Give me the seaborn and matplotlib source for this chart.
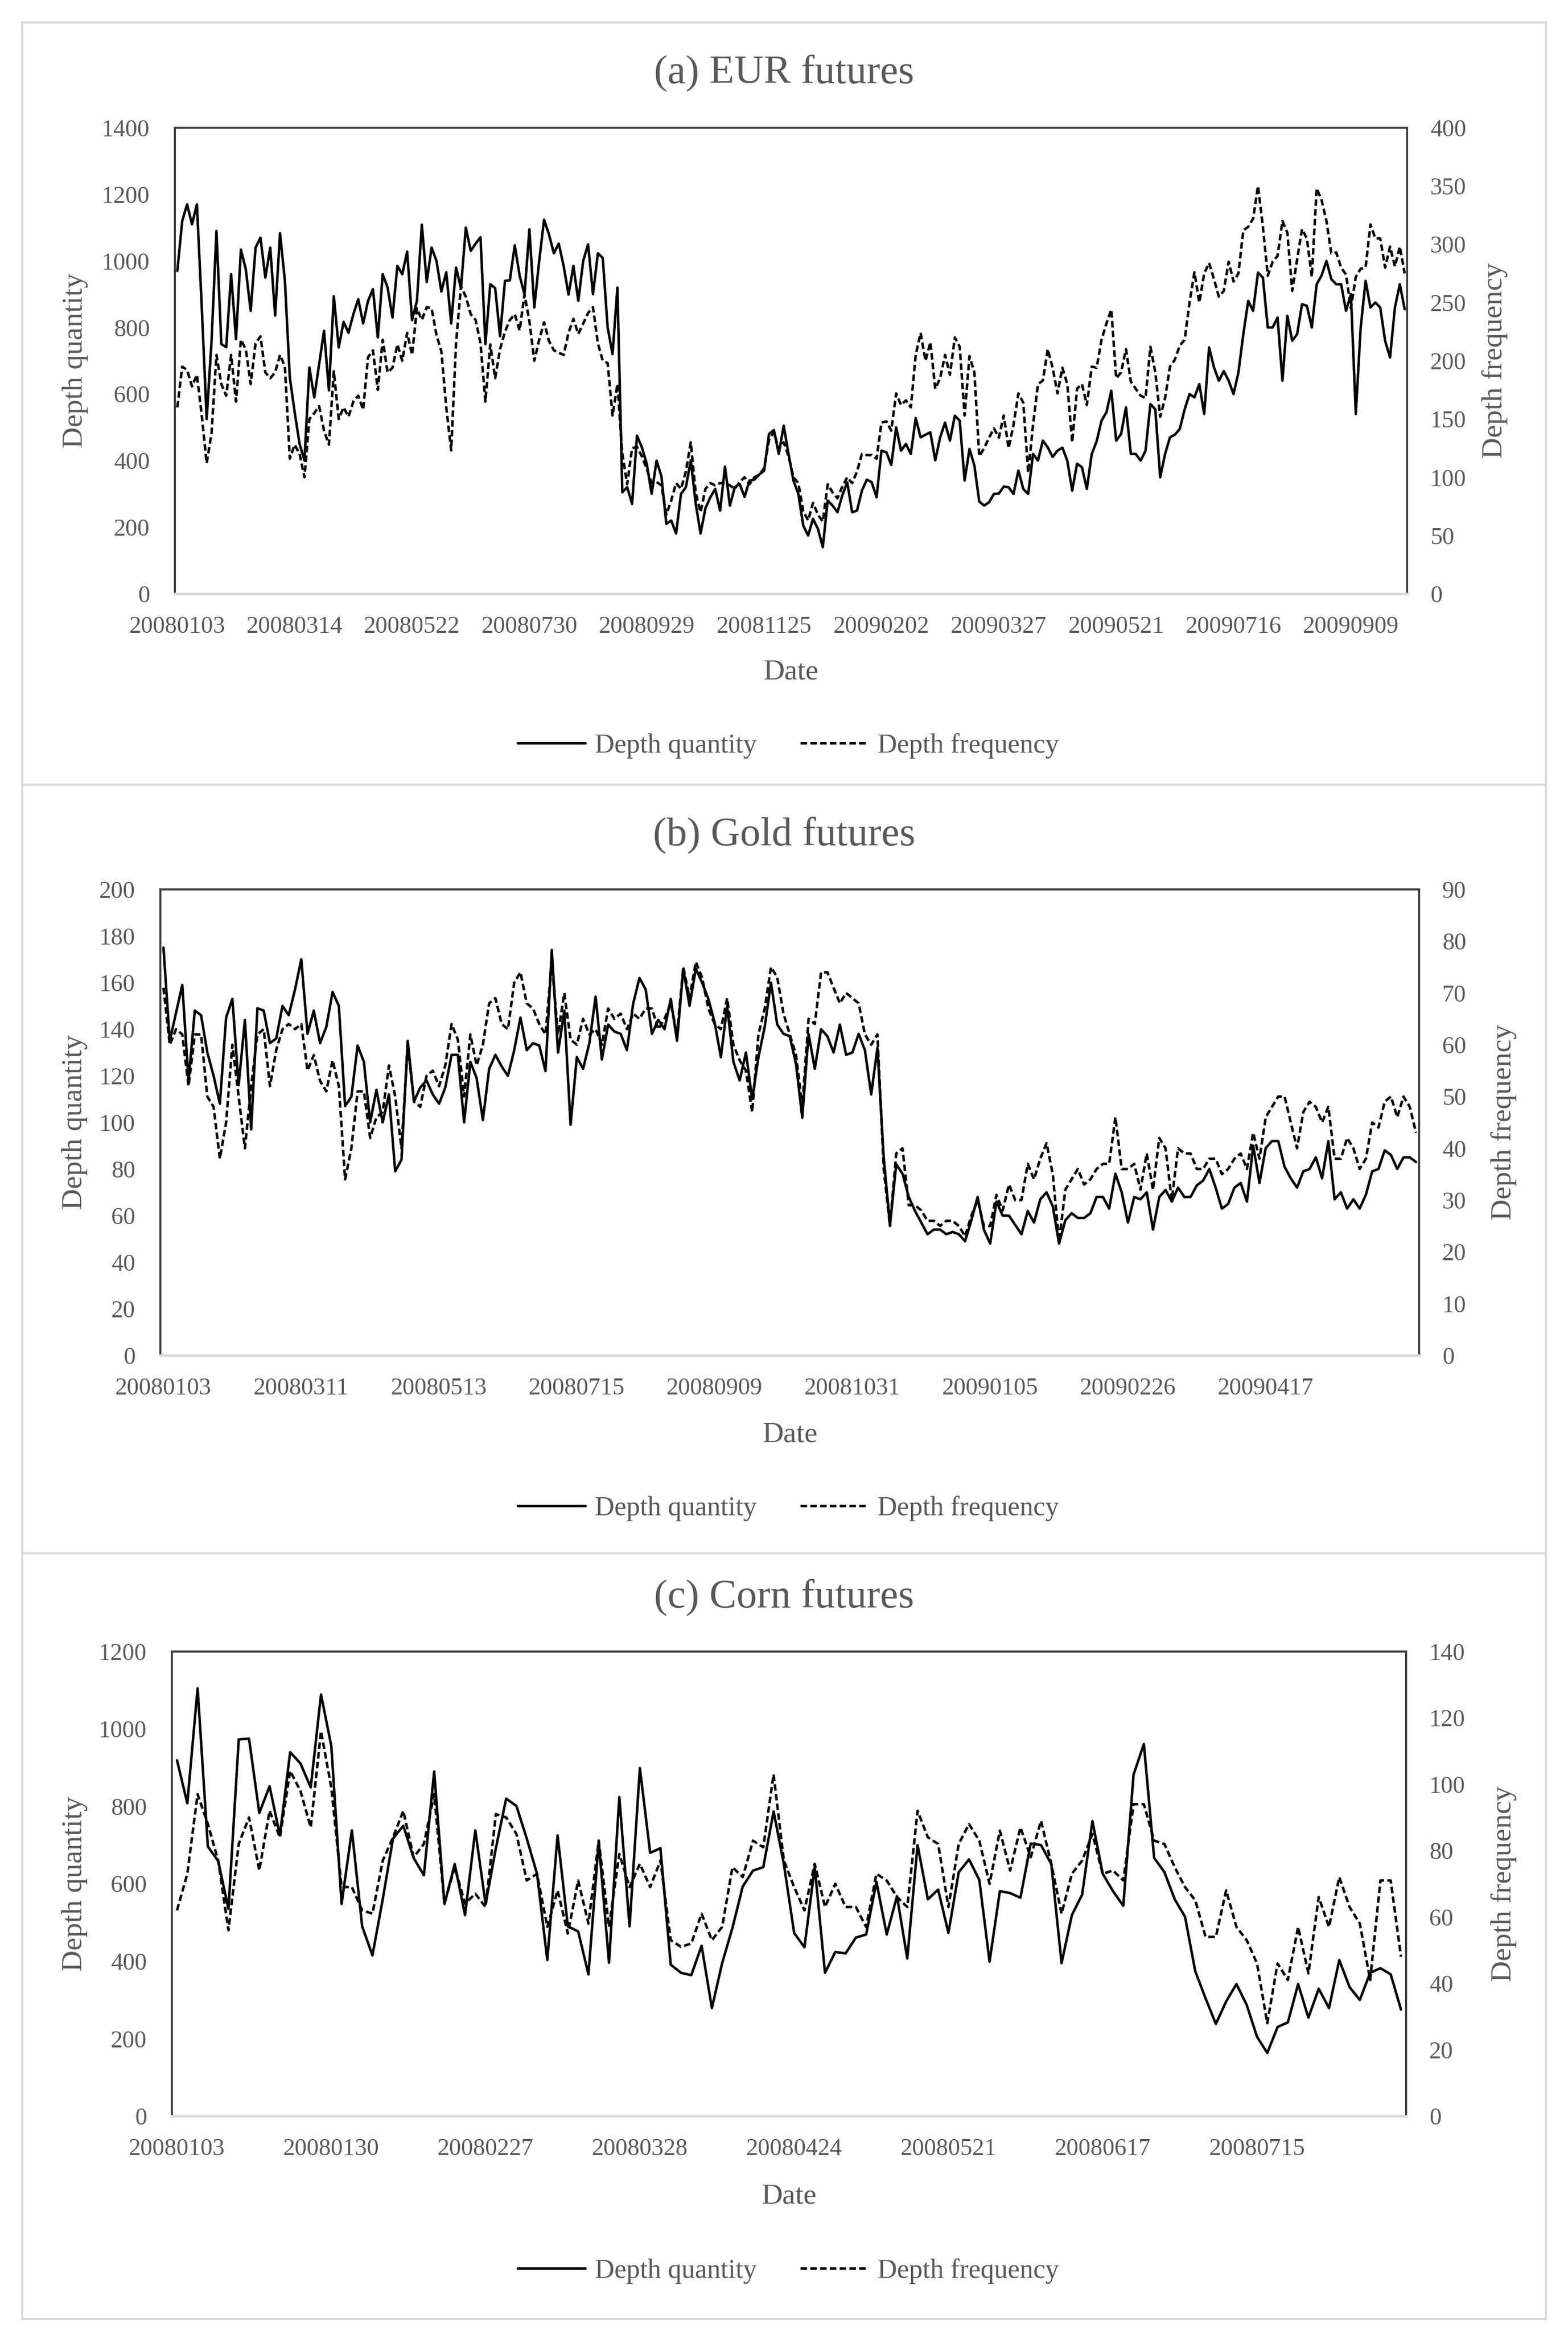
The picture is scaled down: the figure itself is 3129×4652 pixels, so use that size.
import matplotlib
matplotlib.use("Agg")
import matplotlib.pyplot as plt
import matplotlib.patches as patches
import pandas as pd
import seaborn as sns

# ---- data ----
eur_ticks = ["20080103", "20080314", "20080522", "20080730", "20080929", "20081125",
             "20090202", "20090327", "20090521", "20090716", "20090909"]
eur_quantity = [
    970, 1120, 1170, 1110, 1170, 860, 525, 760, 1090, 750,
    741, 960, 765, 1034, 975, 850, 1040, 1070, 950, 1040,
    836, 1083, 940, 650, 545, 450, 400, 680, 590, 690,
    790, 611, 894, 740, 817, 784, 840, 885, 812, 880,
    915, 770, 960, 920, 830, 985, 960, 1028, 822, 880,
    1109, 937, 1040, 1000, 908, 966, 812, 980, 918, 1100,
    1030, 1052, 1071, 750, 930, 918, 774, 940, 942, 1047,
    956, 899, 1095, 860, 1000, 1124, 1080, 1023, 1052, 985,
    899, 985, 880, 1000, 1050, 900, 1023, 1009, 800, 720,
    920, 305, 320, 270, 475, 440, 390, 300, 400, 353,
    210, 220, 181, 300, 320, 401, 272, 181, 257, 290,
    315, 250, 382, 265, 320, 330, 291, 340, 343, 358,
    370, 480, 492, 420, 505, 420, 340,
    300, 205, 175, 225, 195, 140, 280, 265, 245, 296,
    335, 245, 250, 310, 343, 335, 290, 430, 425, 387,
    500, 430, 450, 420, 528, 470, 478, 485, 401, 470,
    514, 460, 535, 520, 340, 435, 385, 277, 265, 275,
    300, 301, 322, 320, 300, 370, 315, 300, 420, 400,
    460, 440, 411, 430, 439, 400, 310, 391, 380, 315,
    420, 458, 520, 545, 610, 460, 480, 560, 420, 420,
    400, 430, 570, 554, 350, 420, 470, 478, 495, 554,
    600, 590, 630, 540, 740, 680, 640, 669, 640, 600,
    665, 780, 880, 850, 965, 950, 800, 800, 830, 640,
    835, 760, 780, 870, 865, 800, 930, 956, 1000, 945,
    930, 930, 850, 900, 540, 800, 940, 860, 875, 860,
    760, 710, 860, 930, 855,
]
eur_frequency = [
    160, 195, 192, 178, 188, 153, 112, 138, 205, 180,
    170, 205, 165, 218, 210, 180, 215, 221, 190, 185,
    190, 205, 195, 116, 128, 120, 100, 150, 155, 161,
    140, 128, 191, 150, 160, 152, 165, 170, 158, 203,
    209, 175, 218, 190, 194, 214, 200, 224, 205, 245,
    235, 246, 245, 222, 208, 160, 123, 215, 264, 255,
    240, 235, 215, 165, 214, 185, 210, 225, 235, 240,
    226, 257, 234, 200, 218, 233, 217, 209, 207, 205,
    224, 236, 223, 232, 241, 246, 215, 200, 198, 153,
    180, 120, 94, 125, 126, 118, 107, 95, 96, 93,
    68, 80, 95, 90, 105, 130, 87, 70, 90, 95,
    93, 95, 95, 93, 90, 96, 100, 94, 100, 102,
    108, 132, 139, 124, 130, 118, 100,
    95, 71, 63, 78, 68, 62, 94, 87, 82, 92,
    100, 95, 105, 120, 119, 119, 116, 147, 148, 140,
    172, 162, 166, 160, 205, 224, 200, 216, 176, 185,
    205, 188, 220, 212, 153, 204, 190, 118, 125, 134,
    142, 134, 153, 125, 145, 172, 164, 104, 145, 180,
    183, 210, 194, 172, 194, 180, 130, 176, 180, 162,
    195, 194, 218, 232, 244, 185, 190, 210, 182, 176,
    170, 168, 212, 190, 152, 168, 195, 201, 213, 218,
    250, 276, 250, 275, 284, 270, 255, 260, 285, 268,
    275, 312, 315, 322, 350, 315, 273, 285, 290, 320,
    310, 260, 287, 313, 305, 272, 348, 338, 320, 292,
    293, 280, 274, 245, 272, 279, 280, 317, 305, 305,
    280, 298, 281, 298, 275,
]

gold_ticks = ["20080103", "20080311", "20080513", "20080715", "20080909", "20081031",
              "20090105", "20090226", "20090417"]
gold_quantity = [
    175, 135, 147, 159, 118, 148, 146, 130, 120, 108,
    145, 153, 116, 144, 97, 149, 148, 134, 136, 150,
    146, 157, 170, 138, 148, 134, 141, 156, 150, 107,
    111, 133, 126, 100, 114, 100, 112, 79, 84, 135,
    109, 115, 118, 112, 108, 115, 129, 129, 100, 126,
    119, 101, 123, 129, 124, 120, 131, 145, 131, 134,
    133, 122, 174, 130, 148, 99, 128, 123, 134, 154,
    127, 142, 139, 138, 131, 151, 162, 157, 138, 144,
    140, 153, 135, 166, 150, 166, 160, 153, 143, 128,
    150, 126, 118, 130, 110, 128, 141, 160, 142, 138,
    137, 125, 102, 138, 123, 140, 137, 130, 142, 129,
    130, 138, 131, 112, 132, 85, 56, 82, 78, 68,
    62, 57, 52, 54, 54, 52, 53, 52, 49, 58,
    68, 54, 48, 66, 60, 60, 56, 52, 62, 57,
    67, 70, 64, 48, 58, 61, 59, 59, 61, 68,
    68, 63, 78, 70, 57, 68, 67, 70, 54, 68,
    71, 66, 72, 68, 68, 73, 75, 80, 72, 63,
    65, 72, 74, 66, 90, 74, 89, 92, 92, 81,
    76, 72, 79, 80, 85, 76, 92, 67, 70, 63,
    67, 63, 69, 79, 80, 88, 86, 80, 85, 85,
    83,
]
gold_frequency = [
    71, 60, 63, 62, 52, 62, 62, 50, 48, 38,
    45, 60, 50, 40, 52, 62, 63, 52, 59, 63,
    64, 63, 64, 55, 58, 53, 51, 57, 52, 34,
    40, 51, 51, 42, 46, 47, 56, 50, 40, 60,
    49, 48, 54, 55, 52, 56, 64, 61, 50, 62,
    56, 60, 68, 69, 64, 63, 72, 74, 68, 67,
    64, 62, 76, 62, 70, 61, 60, 65, 62, 63,
    60, 67, 65, 66, 63, 66, 65, 67, 67, 63,
    65, 68, 62, 75, 69, 76, 73, 67, 64, 63,
    69, 60, 57, 55, 47, 62, 67, 75, 73, 66,
    62, 58, 48, 65, 64, 74, 74, 71, 68, 70,
    69, 68, 62, 60, 62, 36, 25, 39, 40, 29,
    29, 28, 26, 26, 25, 26, 26, 25, 23, 27,
    30, 25, 25, 31, 28, 33, 30, 30, 37, 34,
    38, 41, 35, 22, 32, 34, 36, 33, 34, 36,
    37, 37, 46, 36, 36, 37, 32, 39, 32, 42,
    40, 30, 40, 39, 39, 36, 36, 38, 38, 35,
    36, 38, 39, 36, 43, 38, 46, 48, 50, 50,
    45, 40, 47, 49, 48, 45, 48, 38, 38, 42,
    40, 36, 38, 45, 44, 49, 50, 46, 50, 48,
    43,
]

corn_ticks = ["20080103", "20080130", "20080227", "20080328", "20080424", "20080521",
              "20080617", "20080715"]
corn_quantity = [
    919, 808, 1105, 696, 659, 535, 973, 975, 783, 852,
    725, 940, 911, 849, 1089, 956, 548, 738, 490, 415,
    560, 717, 750, 667, 622, 890, 548, 651, 519, 738,
    548, 692, 820, 801, 717, 626, 403, 725, 490, 477,
    366, 709, 396, 824, 490, 899, 680, 692, 391, 370,
    364, 440, 279, 395, 486, 593, 634, 643, 787, 651,
    473, 436, 643, 370, 424, 420, 461, 469, 605, 469,
    568, 407, 700, 560, 585, 473, 630, 663, 610, 399,
    581, 576, 564, 704, 700, 651, 395, 519, 572, 762,
    626, 581, 543, 882, 961, 667, 630, 560, 515, 374,
    304, 238, 296, 341, 287, 205, 163, 230, 242, 341,
    254, 329, 279, 403, 333, 300, 370, 382, 366, 275,
]
corn_frequency = [
    62, 73, 97, 88, 77, 56, 82, 90, 74, 92,
    84, 104, 98, 87, 116, 99, 69, 69, 62, 61,
    77, 84, 92, 78, 82, 97, 64, 75, 64, 67,
    63, 91, 90, 85, 71, 73, 57, 68, 55, 71,
    58, 83, 57, 79, 69, 76, 69, 77, 53, 51,
    52, 61, 53, 57, 75, 72, 83, 81, 103, 77,
    69, 62, 76, 63, 70, 63, 63, 57, 73, 71,
    66, 63, 92, 84, 82, 63, 82, 88, 83, 70,
    86, 74, 87, 78, 89, 76, 61, 73, 77, 85,
    73, 74, 71, 94, 94, 83, 82, 75, 69, 65,
    54, 54, 68, 57, 53, 46, 28, 46, 41, 57,
    43, 66, 57, 72, 63, 58, 41, 71, 71, 48,
]

# ---- style ----
sns.set_style("white")
plt.rcParams["font.family"] = ["Liberation Serif", "DejaVu Serif"]
GREY = "#595959"
DARK = "#404040"
LIGHT = "#D9D9D9"

W, H = 3129, 4652
fig = plt.figure(figsize=(W / 300, H / 300), dpi=300)


def draw_panel(box, axes_px, title, title_y, quantity, frequency, ticks, step,
               left_lim, right_lim, date_y, legend_y, ylab_x):
    # light grey frame around each panel
    x0, y0, x1, y1 = box
    fig.patches.append(patches.Rectangle((x0 / W, 1 - y1 / H), (x1 - x0) / W, (y1 - y0) / H,
                                         transform=fig.transFigure, fill=False,
                                         edgecolor=LIGHT, linewidth=1.0))
    left, top, right, bottom = axes_px
    ax = fig.add_axes([left / W, 1 - bottom / H, (right - left) / W, (bottom - top) / H])
    df = pd.DataFrame({"idx": range(len(quantity)),
                       "Depth quantity": quantity,
                       "Depth frequency": frequency})
    sns.lineplot(data=df, x="idx", y="Depth quantity", ax=ax, color="black",
                 linewidth=1.2, errorbar=None, legend=False)
    ax2 = ax.twinx()
    sns.lineplot(data=df, x="idx", y="Depth frequency", ax=ax2, color="black",
                 linewidth=1.2, linestyle="--", errorbar=None, legend=False)
    ax2.lines[0].set_dashes([2.6, 1.3])

    n = len(quantity)
    ax.set_xlim(-0.5, n - 0.5)
    ax.set_xticks(list(range(0, n, step))[:len(ticks)])
    ax.set_xticklabels(ticks)
    ax.set_ylim(0, left_lim[0])
    ax.set_yticks(range(0, left_lim[0] + 1, left_lim[1]))
    ax2.set_ylim(0, right_lim[0])
    ax2.set_yticks(range(0, right_lim[0] + 1, right_lim[1]))

    for a in (ax, ax2):
        for side in ("left", "top", "right"):
            a.spines[side].set_color(DARK)
            a.spines[side].set_linewidth(0.9)
        a.spines["bottom"].set_color(LIGHT)
        a.spines["bottom"].set_linewidth(1.2)
        a.grid(False)
    ax.tick_params(axis="both", length=0, labelsize=11.5, labelcolor=GREY)
    ax.tick_params(axis="y", pad=12)
    ax.tick_params(axis="x", pad=10.5)
    ax2.tick_params(axis="y", length=0, labelsize=11.5, labelcolor=GREY, pad=11)

    ah = bottom - top
    aw = right - left
    ax.set_xlabel("Date", fontsize=14, color=GREY)
    ax.xaxis.set_label_coords(0.5, -(date_y - bottom) / ah)
    ax.xaxis.label.set_va("center")
    ax.set_ylabel("Depth quantity", fontsize=14, color=GREY)
    ax.yaxis.set_label_coords(-(left - ylab_x[0]) / aw, 0.5)
    ax.yaxis.label.set_va("center")
    ax2.set_ylabel("Depth frequency", fontsize=14, color=GREY, rotation=90)
    ax2.yaxis.set_label_coords(1 + (ylab_x[1] - right) / aw, 0.5)
    ax2.yaxis.label.set_va("center")

    fig.text((x0 + x1) / 2 / W, 1 - title_y / H, title, ha="center", va="center",
             fontsize=19.5, color=GREY)
    fig.legend(handles=[ax.lines[0], ax2.lines[0]],
               labels=["Depth quantity", "Depth frequency"],
               loc="center", bbox_to_anchor=(1573 / W, 1 - legend_y / H),
               ncol=2, frameon=False, fontsize=13, labelcolor=GREY,
               handlelength=2.5, handletextpad=0.35, columnspacing=1.6)


draw_panel((44, 45, 3085, 1566), (349, 255, 2808, 1185), "(a) EUR futures", 146,
           eur_quantity, eur_frequency, eur_ticks, 24, (1400, 200), (400, 50),
           1341, 1488, (150, 2983))
draw_panel((44, 1566, 3085, 3100), (320, 1775, 2832, 2705), "(b) Gold futures", 1667,
           gold_quantity, gold_frequency, gold_ticks, 22, (200, 20), (90, 10),
           2864, 3010, (149, 3001))
draw_panel((44, 3100, 3085, 4628), (343, 3296, 2806, 4223), "(c) Corn futures", 3188,
           corn_quantity, corn_frequency, corn_ticks, 15, (1200, 200), (140, 20),
           4384, 4532, (149, 3001))

fig.savefig("out.png", dpi=300)
